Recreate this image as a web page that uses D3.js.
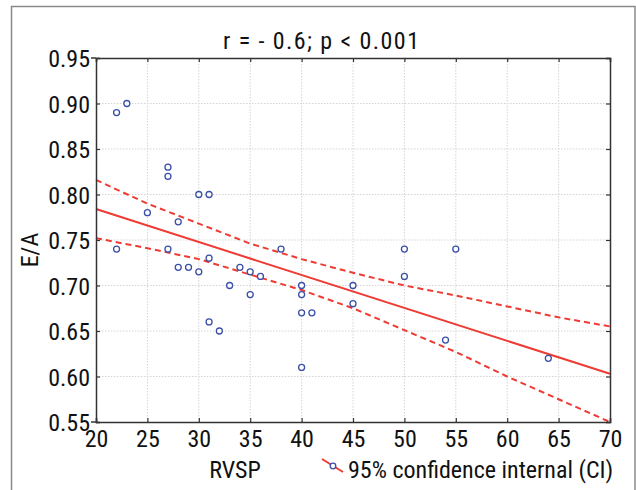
<!DOCTYPE html>
<html><head><meta charset="utf-8">
<script src="https://cdn.jsdelivr.net/npm/d3@7"></script>
<style>
body{margin:0;background:#fff}
text{font-family:"Liberation Sans Narrow","Roboto Condensed","DejaVu Sans Condensed","Arial Narrow",sans-serif;font-stretch:condensed;fill:#111}
</style>
</head><body>
<svg id="c" width="636" height="490"></svg>
<script>
const rvsp = [22,23,27,27,25,28,30,31,22,27,38,28,29,30,31,33,34,35,36,35,31,32,40,40,40,41,40,45,45,50,55,50,54,64];
const ea   = [0.89,0.90,0.83,0.82,0.78,0.77,0.80,0.80,0.74,0.74,0.74,0.72,0.72,0.715,0.73,0.70,0.72,0.715,0.71,0.69,0.66,0.65,0.70,0.69,0.67,0.67,0.61,0.70,0.68,0.74,0.74,0.71,0.64,0.62];
const xTicks = [20,25,30,35,40,45,50,55,60,65,70];
const yTicks = [0.55,0.60,0.65,0.70,0.75,0.80,0.85,0.90,0.95];
const fitX = [20,70];
const fitY = [0.784,0.603];
const ciX = [20,25,30,35,40,45,50,55,60,65,70];
const ciUpper = [0.816,0.790,0.768,0.746,0.729,0.714,0.700,0.689,0.677,0.665,0.655];
const ciLower = [0.752,0.741,0.729,0.712,0.695,0.675,0.651,0.627,0.600,0.575,0.550];
const titleText = "r = - 0.6; p < 0.001";
const xLabel = "RVSP", yLabel = "E/A";
const legendText = "95% confidence internal (CI)";

const svg = d3.select("#c");
const L=96, R=610, T=58, B=422;
const x = d3.scaleLinear().domain([20,70]).range([L,R]);
const y = d3.scaleLinear().domain([0.55,0.95]).range([B,T]);
const red="#ee3b33", blue="#3a4fa6";
const FS = 24;

// outer border
svg.append("path").attr("d",`M11.5,490 V6.5 H635 V490`).attr("fill","none").attr("stroke","#8a8a8a").attr("stroke-width",1.5);

// grid
const g = svg.append("g");
g.selectAll(".gx").data(xTicks.slice(1,-1)).join("line")
 .attr("x1",d=>x(d)).attr("x2",d=>x(d)).attr("y1",T).attr("y2",B)
 .attr("stroke","#d4d4d4").attr("stroke-width",1).attr("stroke-dasharray","1.5,1.5");
g.selectAll(".gy").data(yTicks.slice(1,-1)).join("line")
 .attr("y1",d=>y(d)).attr("y2",d=>y(d)).attr("x1",L).attr("x2",R)
 .attr("stroke","#d4d4d4").attr("stroke-width",1).attr("stroke-dasharray","1.5,1.5");

// CI and fit
const line = d3.line().x(d=>x(d[0])).y(d=>y(d[1]));
svg.append("path").attr("d",line(ciX.map((v,i)=>[v,ciUpper[i]]))).attr("fill","none").attr("stroke",red).attr("stroke-width",2).attr("stroke-dasharray","6,4");
svg.append("path").attr("d",line(ciX.map((v,i)=>[v,ciLower[i]]))).attr("fill","none").attr("stroke",red).attr("stroke-width",2).attr("stroke-dasharray","6,4");
svg.append("path").attr("d",line(fitX.map((v,i)=>[v,fitY[i]]))).attr("fill","none").attr("stroke",red).attr("stroke-width",2);

// points
svg.selectAll(".pt").data(rvsp.map((v,i)=>[v,ea[i]])).join("circle")
 .attr("cx",d=>x(d[0])).attr("cy",d=>y(d[1])).attr("r",3)
 .attr("fill","#fff").attr("stroke",blue).attr("stroke-width",1.3);

// axes
const fmtY = d3.format(".2f");
const axL = svg.append("g").attr("transform",`translate(${L},0)`).call(d3.axisLeft(y).tickValues(yTicks).tickFormat(fmtY).tickSize(-4).tickPadding(6));
const axR = svg.append("g").attr("transform",`translate(${R},0)`).call(d3.axisRight(y).tickValues(yTicks).tickFormat("").tickSize(-4));
const axB = svg.append("g").attr("transform",`translate(0,${B})`).call(d3.axisBottom(x).tickValues(xTicks).tickFormat(d3.format("d")).tickSize(-4).tickPadding(8));
const axT = svg.append("g").attr("transform",`translate(0,${T})`).call(d3.axisTop(x).tickValues(xTicks).tickFormat("").tickSize(-4));
[axL,axR,axB,axT].forEach(a=>{
  a.select(".domain").attr("stroke","#333").attr("stroke-width",1.5);
  a.selectAll(".tick line").attr("stroke","#333").attr("stroke-width",1.2);
  a.selectAll("text").attr("font-size",FS).attr("fill","#111").style("font-family",null);
});
axL.selectAll("text").attr("dy","0.36em");
// small outward corner marks
svg.append("line").attr("x1",L-5).attr("x2",L).attr("y1",T).attr("y2",T).attr("stroke","#333").attr("stroke-width",1.5);
svg.append("line").attr("x1",L-5).attr("x2",L).attr("y1",B).attr("y2",B).attr("stroke","#333").attr("stroke-width",1.5);

// titles
svg.append("text").attr("x",321).attr("y",49).attr("text-anchor","middle").attr("font-size",FS)
  .attr("textLength",196).attr("lengthAdjust","spacing").text(titleText);
svg.append("text").attr("x",235).attr("y",478).attr("text-anchor","middle").attr("font-size",FS).text(xLabel);
svg.append("text").attr("transform","translate(38,250) rotate(-90)").attr("text-anchor","middle").attr("font-size",FS).text(yLabel);

// legend
svg.append("line").attr("x1",322).attr("y1",459).attr("x2",343).attr("y2",472).attr("stroke",red).attr("stroke-width",2);
svg.append("circle").attr("cx",333).attr("cy",466).attr("r",2.8).attr("fill","#fff").attr("stroke",blue).attr("stroke-width",1.3);
svg.append("text").attr("x",348).attr("y",478).attr("font-size",FS).text(legendText);
</script>
</body></html>
